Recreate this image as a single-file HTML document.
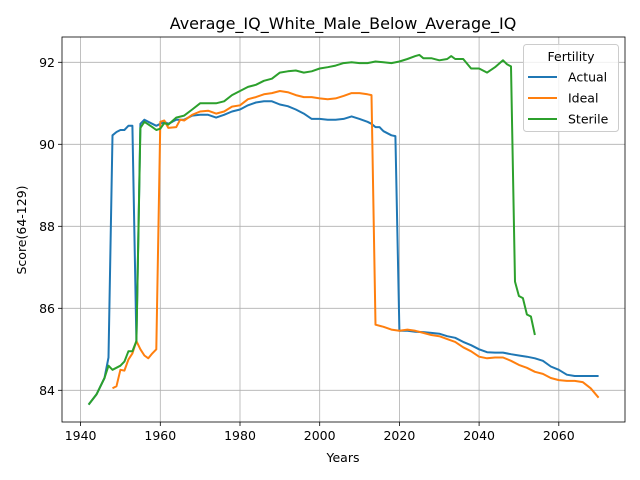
<!DOCTYPE html>
<html><head><meta charset="utf-8"><style>
body{margin:0;background:#fff;}
svg{display:block;font-family:"DejaVu Sans","Liberation Sans",sans-serif;}
</style></head><body>
<svg id="chart" width="640" height="480" viewBox="0 0 640 480"></svg>
<script>
const years=[1940,1960,1980,2000,2020,2040,2060];
const yticks=[84,86,88,90,92];
const seriesNames=["Actual","Ideal","Sterile"];
const colors=["#1f77b4","#ff7f0e","#2ca02c"];
const actualX=[1942,1944,1946,1947,1948,1949,1950,1951,1952,1953,1954,1955,1956,1957,1958,1959,1960,1961,1962,1963,1964,1966,1968,1970,1972,1974,1976,1978,1980,1982,1984,1986,1988,1990,1992,1994,1996,1998,2000,2002,2004,2006,2008,2010,2012,2013,2014,2015,2016,2018,2019,2020,2022,2024,2026,2028,2030,2032,2034,2036,2038,2040,2042,2044,2046,2048,2050,2052,2054,2056,2058,2060,2062,2064,2066,2068,2070];
const actualY=[83.65,83.9,84.3,84.8,90.22,90.3,90.35,90.35,90.45,90.45,85.2,90.5,90.6,90.55,90.5,90.45,90.5,90.55,90.5,90.55,90.6,90.6,90.7,90.72,90.72,90.65,90.72,90.8,90.85,90.95,91.02,91.05,91.05,90.97,90.93,90.85,90.75,90.62,90.62,90.6,90.6,90.62,90.68,90.62,90.55,90.5,90.42,90.42,90.32,90.22,90.2,85.45,85.45,85.43,85.42,85.4,85.38,85.32,85.28,85.18,85.1,85.0,84.93,84.92,84.92,84.88,84.85,84.82,84.78,84.72,84.58,84.5,84.38,84.35,84.35,84.35,84.35];
const idealX=[1948,1949,1950,1951,1952,1953,1954,1955,1956,1957,1958,1959,1960,1961,1962,1964,1965,1966,1968,1970,1972,1974,1976,1978,1980,1982,1984,1986,1988,1990,1992,1994,1996,1998,2000,2002,2004,2006,2008,2010,2012,2013,2014,2016,2018,2020,2022,2024,2026,2028,2030,2032,2034,2036,2038,2040,2042,2044,2046,2048,2050,2052,2054,2056,2058,2060,2062,2064,2066,2068,2070];
const idealY=[84.05,84.1,84.5,84.48,84.75,84.9,85.2,85.0,84.85,84.78,84.9,85.0,90.55,90.58,90.4,90.42,90.6,90.58,90.72,90.8,90.82,90.75,90.8,90.92,90.95,91.1,91.15,91.22,91.25,91.3,91.27,91.2,91.15,91.15,91.12,91.1,91.12,91.18,91.25,91.25,91.22,91.2,85.6,85.55,85.48,85.45,85.48,85.45,85.4,85.35,85.32,85.25,85.18,85.05,84.95,84.82,84.78,84.8,84.8,84.72,84.62,84.55,84.45,84.4,84.3,84.25,84.23,84.23,84.2,84.05,83.82];
const sterileX=[1942,1944,1946,1947,1948,1950,1951,1952,1953,1954,1955,1956,1958,1959,1960,1961,1962,1964,1966,1968,1970,1972,1974,1976,1978,1980,1982,1984,1986,1988,1990,1992,1994,1996,1998,2000,2002,2004,2006,2008,2010,2012,2014,2016,2018,2020,2022,2024,2025,2026,2028,2030,2032,2033,2034,2036,2038,2040,2042,2044,2046,2047,2048,2049,2050,2051,2052,2053,2054];
const sterileY=[83.65,83.9,84.3,84.6,84.5,84.6,84.7,84.95,84.95,85.2,90.4,90.55,90.42,90.35,90.38,90.52,90.48,90.65,90.7,90.85,91.0,91.0,91.0,91.05,91.2,91.3,91.4,91.45,91.55,91.6,91.75,91.78,91.8,91.75,91.78,91.85,91.88,91.92,91.98,92.0,91.98,91.98,92.02,92.0,91.98,92.02,92.08,92.15,92.18,92.1,92.1,92.05,92.08,92.15,92.08,92.08,91.85,91.85,91.75,91.88,92.05,91.95,91.9,86.65,86.3,86.25,85.85,85.8,85.35];

const L=62,R=625,T=37,B=422;
const xs=v=>80.6+(v-1940)*3.985;
const ys=v=>390.3-(v-84)*41;
const svg=document.getElementById('chart');
const NS="http://www.w3.org/2000/svg";
function mk(tag,attrs,parent){const e=document.createElementNS(NS,tag);for(const k in attrs)e.setAttribute(k,attrs[k]);(parent||svg).appendChild(e);return e;}

const title=mk('text',{x:343,y:29,'text-anchor':'middle','font-size':16,fill:'#000'});
title.textContent="Average_IQ_White_Male_Below_Average_IQ";



years.forEach(y=>{
  const g=mk('line',{x1:xs(y),x2:xs(y),y1:T,y2:B,stroke:'#b0b0b0','stroke-width':0.8});
  
  
  const t=mk('line',{x1:xs(y),x2:xs(y),y1:B,y2:B+4,stroke:'#000','stroke-width':0.8});
  
  
  const tx=mk('text',{x:xs(y),y:B+18,'text-anchor':'middle','font-size':12.5});
  tx.textContent=y;
  
  
});
yticks.forEach(v=>{
  const g=mk('line',{x1:L,x2:R,y1:ys(v),y2:ys(v),stroke:'#b0b0b0','stroke-width':0.8});
  
  
  const t=mk('line',{x1:L-4,x2:L,y1:ys(v),y2:ys(v),stroke:'#000','stroke-width':0.8});
  
  
  const tx=mk('text',{x:L-7,y:ys(v)+4.5,'text-anchor':'end','font-size':12.5});
  tx.textContent=v;
  
  
});

const allX=[actualX,idealX,sterileX], allY=[actualY,idealY,sterileY];
allX.forEach((X,i)=>{
  const d=X.map((x,j)=>(j?'L':'M')+xs(x).toFixed(1)+','+ys(allY[i][j]).toFixed(1)).join(' ');
  const p=mk('path',{d:d,fill:'none',stroke:colors[i],'stroke-width':2,'stroke-linejoin':'round'});
  
  
});

const frame=mk('rect',{x:L,y:T,width:R-L,height:B-T,fill:'none',stroke:'#000','stroke-width':0.8});



const xl=mk('text',{x:343,y:462,'text-anchor':'middle','font-size':12.5});
xl.textContent="Years";


const yl=mk('text',{x:0,y:0,'text-anchor':'middle','font-size':12.5,transform:'translate(26,230) rotate(-90)'});
yl.textContent="Score(64-129)";



const lg=mk('g',{});


mk('rect',{x:523.5,y:44.5,width:95,height:87,rx:3,fill:'#fff','fill-opacity':0.8,stroke:'#ccc'},lg);
const lt=mk('text',{x:571,y:61,'text-anchor':'middle','font-size':12.5},lg);
lt.textContent="Fertility";


seriesNames.forEach((n,i)=>{
  const yy=77+i*21;
  const e=mk('g',{},lg);
  
  
  mk('line',{x1:528,x2:557,y1:yy,y2:yy,stroke:colors[i],'stroke-width':2},e);
  const t=mk('text',{x:568,y:yy+4.5,'font-size':12.5},e);
  t.textContent=n;
});
</script>
</body></html>
